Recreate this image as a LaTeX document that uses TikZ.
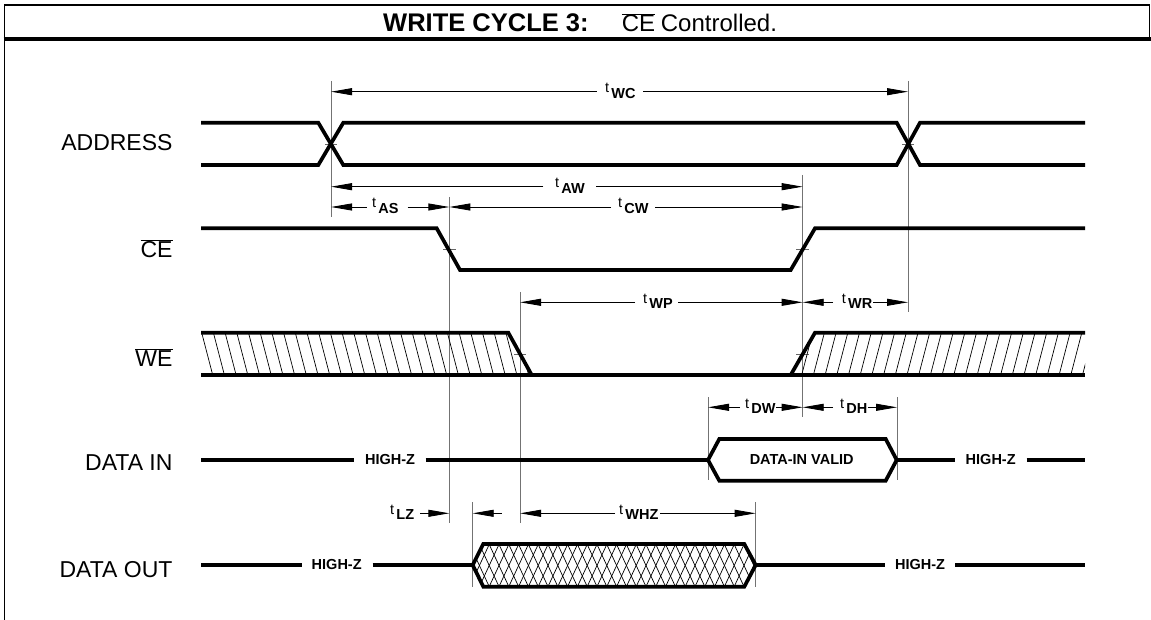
\documentclass[tikz,border=0pt]{standalone}
\usepackage{fontspec}
\setmainfont{Liberation Sans}
\usetikzlibrary{arrows.meta}
\newcommand\tmlab[1]{t\kern2.2pt\raisebox{-5.5pt}{\bfseries #1}}
\begin{document}
\begin{tikzpicture}[x=1pt,y=-1pt,
 sig/.style={line width=3.7pt,line join=miter},
 refl/.style={line width=0.9pt,black!55},
 dimar/.style={line width=0.9pt,-{Triangle[length=21pt,width=7pt]}},
 tickm/.style={line width=0.8pt,black!60},
 hat/.style={line width=0.7pt},
 lbl/.style={font=\fontsize{23}{23}\selectfont,anchor=base east,inner sep=0pt},
 hz/.style={font=\fontsize{14.5}{14.5}\selectfont\bfseries,inner sep=0pt},
 tl/.style={font=\fontsize{14.5}{14.5}\selectfont,anchor=base west,inner sep=0pt}]
\useasboundingbox (0,0) rectangle (1151,620);
% frame
\draw[line width=1.6pt] (4.3,620) -- (4.3,5) -- (1149.5,5) -- (1149.5,39);
\draw[line width=4.2pt] (3.5,39) -- (1151,39);
% title
\node[anchor=base west,inner sep=0pt,font=\fontsize{25.5}{25.5}\selectfont\bfseries] (title) at (383,32) {WRITE CYCLE 3:};
\node[anchor=base west,inner sep=0pt,font=\fontsize{24}{24}\selectfont] (tce) at (621.7,32) {$\overline{\hbox{CE}}$};
\node[anchor=base west,inner sep=0pt,font=\fontsize{24}{24}\selectfont] (tctl) at (660.7,32) {Controlled.};
% signal names
\node[lbl] (nA) at (172.7,151) {ADDRESS};
\node[lbl] (nCE) at (172.7,257.5) {$\overline{\hbox{CE}}$};
\node[lbl] (nWE) at (172.7,366) {$\overline{\hbox{WE}}$};
\node[lbl] (nDI) at (172.7,470.5) {DATA IN};
\node[lbl] (nDO) at (172.7,577) {DATA OUT};
% reference verticals
\draw[refl] (331,81) -- (331,217);
\draw[refl] (908,81) -- (908,312);
\draw[refl] (802.7,175) -- (802.7,417);
\draw[refl] (449.3,197) -- (449.3,523);
\draw[refl] (520,292) -- (520,523);
\draw[refl] (708,397) -- (708,480);
\draw[refl] (897,397) -- (897,480);
\draw[refl] (472.7,502) -- (472.7,587);
\draw[refl] (755.7,502) -- (755.7,587);
% ticks
\draw[tickm] (325,144) -- (337,144);
\draw[tickm] (902,144) -- (914,144);
\draw[tickm] (443,249.3) -- (456,249.3);
\draw[tickm] (514,354) -- (526,354);
\draw[tickm] (796,249.3) -- (809,249.3);
\draw[tickm] (796,354) -- (809,354);
% ADDRESS
\draw[sig] (201,122.7) -- (318.3,122.7) -- (343.3,165) -- (896.7,165) -- (920,122.7) -- (1085,122.7);
\draw[sig] (201,165) -- (318.3,165) -- (343.3,122.7) -- (896.7,122.7) -- (920,165) -- (1085,165);
% CE
\draw[sig] (201,228.3) -- (436.7,228.3) -- (460,270) -- (790.7,270) -- (815,228.3) -- (1085,228.3);
% WE hatch
\begin{scope}
\clip (201,332.7) -- (508.3,332.7) -- (531.7,375) -- (201,375) -- cycle;
\foreach \i in {0,...,30} \draw[hat] (190+\i*11.7,332.7) -- (201+\i*11.7,375);
\end{scope}
\begin{scope}
\clip (815,332.7) -- (1085,332.7) -- (1085,375) -- (790.7,375) -- cycle;
\foreach \i in {0,...,26} \draw[hat] (790+\i*11.7,375) -- (801+\i*11.7,332.7);
\end{scope}
\draw[sig] (201,332.7) -- (508.3,332.7) -- (531.7,375);
\draw[sig] (790.7,375) -- (815,332.7) -- (1085,332.7);
\draw[sig] (201,375) -- (1085,375);
% DATA IN
\node[hz] (hz1) at (390,460) {HIGH-Z};
\node[hz] (hz2) at (990.7,460) {HIGH-Z};
\node[hz] (div) at (801.7,460) {DATA-IN VALID};
\draw[sig] (201,460) -- (354,460);
\draw[sig] (425.7,460) -- (708,460);
\draw[sig] (708,460) -- (719.3,439) -- (885.7,439) -- (896.7,460) -- (885.7,480.7) -- (719.3,480.7) -- cycle;
\draw[sig] (896.7,460) -- (955,460);
\draw[sig] (1026.7,460) -- (1085,460);
% DATA OUT
\node[hz] (hz3) at (336.7,565) {HIGH-Z};
\node[hz] (hz4) at (920,565) {HIGH-Z};
\draw[sig] (201,565) -- (301.7,565);
\draw[sig] (372.7,565) -- (472.7,565);
\begin{scope}
\clip (472.7,565) -- (483.3,544) -- (744.3,544) -- (755.7,565) -- (744.3,586.7) -- (483.3,586.7) -- cycle;
\foreach \i in {0,...,34} {
  \draw[hat] (440+\i*9.8,544) -- (460+\i*9.8,587);
  \draw[hat] (460+\i*9.8,544) -- (440+\i*9.8,587);
}
\end{scope}
\draw[sig] (472.7,565) -- (483.3,544) -- (744.3,544) -- (755.7,565) -- (744.3,586.7) -- (483.3,586.7) -- cycle;
\draw[sig] (755.7,565) -- (885,565);
\draw[sig] (955,565) -- (1085,565);
% timing labels
\node[tl] (lWC) at (605,92.7) {\tmlab{WC}};
\node[tl] (lAW) at (555,187.7) {\tmlab{AW}};
\node[tl] (lAS) at (372,208) {\tmlab{AS}};
\node[tl] (lCW) at (618,208) {\tmlab{CW}};
\node[tl] (lWP) at (643,303.3) {\tmlab{WP}};
\node[tl] (lWR) at (841.7,303.3) {\tmlab{WR}};
\node[tl] (lDW) at (745,408.3) {\tmlab{DW}};
\node[tl] (lDH) at (840,408.3) {\tmlab{DH}};
\node[tl] (lLZ) at (390,514.3) {\tmlab{LZ}};
\node[tl] (lWHZ) at (619,514.3) {\tmlab{WHZ}};
% dimension arrows
\draw[dimar] (596.7,91.7) -- (331,91.7);
\draw[dimar] (643.3,91.7) -- (908,91.7);
\draw[dimar] (543.3,186.7) -- (331,186.7);
\draw[dimar] (596,186.7) -- (802.7,186.7);
\draw[dimar] (366.7,207) -- (331,207);
\draw[dimar] (407.7,207) -- (449.3,207);
\draw[dimar] (611,207) -- (449.3,207);
\draw[dimar] (655,207) -- (802.7,207);
\draw[dimar] (635,302.3) -- (520,302.3);
\draw[dimar] (678,302.3) -- (802.7,302.3);
\draw[dimar] (833,302.3) -- (802.7,302.3);
\draw[dimar] (873,302.3) -- (908,302.3);
\draw[dimar] (740,407.3) -- (708,407.3);
\draw[dimar] (776,407.3) -- (802.7,407.3);
\draw[dimar] (833,407.3) -- (802.7,407.3);
\draw[dimar] (868,407.3) -- (897,407.3);
\draw[dimar] (420,513.3) -- (449.3,513.3);
\draw[dimar] (501.7,513.3) -- (472.7,513.3);
\draw[dimar] (615,513.3) -- (520,513.3);
\draw[dimar] (660,513.3) -- (755.7,513.3);
\end{tikzpicture}
\end{document}
